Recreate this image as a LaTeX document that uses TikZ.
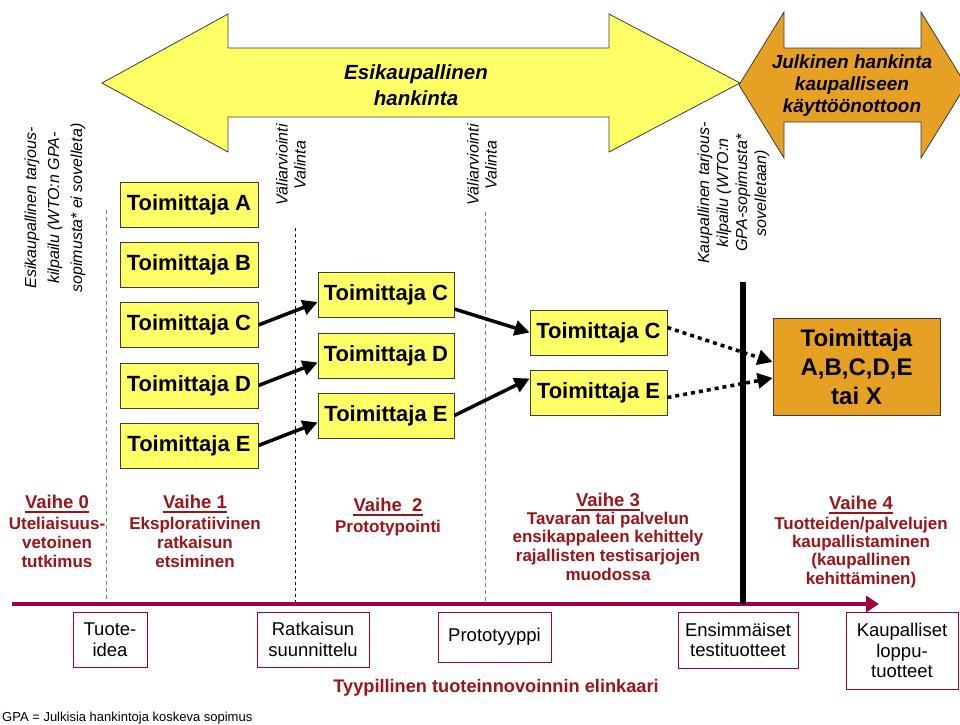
\documentclass[tikz,border=0pt]{standalone}
\usepackage{fontspec}
\setmainfont{Liberation Sans}
\usetikzlibrary{arrows.meta}
\definecolor{ylw}{RGB}{255,255,102}
\definecolor{org}{RGB}{230,160,35}
\definecolor{dred}{RGB}{155,20,25}
\definecolor{crim}{RGB}{160,0,60}
\definecolor{bord}{RGB}{60,60,60}
\begin{document}
\begin{tikzpicture}[x=1pt,y=-1pt,
  sup/.style={draw=bord, line width=0.8pt, fill=ylw, minimum height=45pt, inner sep=0pt,
    font=\fontsize{22}{26}\selectfont\bfseries},
  bigarrow/.style={draw=bord, line width=0.8pt},
  conn/.style={line width=3.5pt, -{Triangle[length=15pt,width=15pt]}},
  dotconn/.style={line width=3.5pt, dash pattern=on 4pt off 4pt, -{Triangle[length=15pt,width=15pt]}},
  rottext/.style={rotate=90, align=center, inner sep=0pt, font=\fontsize{16}{19}\selectfont\itshape},
  head/.style={anchor=base, inner sep=0pt, text=dred, font=\fontsize{18.5}{22}\selectfont\bfseries},
  body/.style={anchor=north, inner sep=0pt, align=center, text=dred, font=\fontsize{17}{19}\selectfont\bfseries},
  ul/.style={dred, line width=1.6pt},
  lbox/.style={draw=crim, line width=1pt, inner sep=0pt, align=center,
    font=\fontsize{18.5}{20.5}\selectfont},
  gdash/.style={gray, line width=1pt, dash pattern=on 4pt off 3pt},
  kdash/.style={black, line width=0.8pt, dash pattern=on 3pt off 3pt}
]
\useasboundingbox (0,0) rectangle (960,724);
\clip (0,0) rectangle (960,724);

% big arrows
\draw[bigarrow, fill=org] (739,85) -- (784,12) -- (784,48) -- (921,48) -- (921,12) -- (966,85)
  -- (921,158) -- (921,122) -- (784,122) -- (784,158) -- cycle;
\draw[bigarrow, fill=ylw] (102,83) -- (228,14) -- (228,48) -- (609,48) -- (609,14) -- (740,83)
  -- (609,152) -- (609,117) -- (228,117) -- (228,152) -- cycle;
\node[align=center, inner sep=0pt, font=\fontsize{20.5}{26}\selectfont\bfseries\itshape] (ta) at (416,85)
  {Esikaupallinen\\hankinta};
\node[align=center, inner sep=0pt, font=\fontsize{19}{22}\selectfont\bfseries\itshape] (tb) at (852,85.5)
  {Julkinen hankinta\\kaupalliseen\\käyttöönottoon};

% rotated notes
\node[rottext, font=\fontsize{16}{23}\selectfont\itshape] (n0) at (55,208)
  {Esikaupallinen tarjous-\\kilpailu (WTO:n GPA-\\sopimusta* ei sovelleta)};
\node[rottext, font=\fontsize{16}{18}\selectfont\itshape] (n1) at (291,165) {Väliarviointi\\Valinta};
\node[rottext, font=\fontsize{16}{18}\selectfont\itshape] (n2) at (482,165) {Väliarviointi\\Valinta};
\node[rottext] (n3) at (733.5,193)
  {Kaupallinen tarjous-\\kilpailu (WTO:n\\GPA-sopimusta*\\sovelletaan)};

% dashed separators
\draw[gdash] (106,210) -- (106,604);
\draw[kdash] (295,228) -- (295,604);
\draw[gdash] (485,212) -- (485,604);

% timeline
\coordinate (tl0) at (12,604);
\coordinate (tl1) at (879,604);
\draw[crim, line width=4.5pt, -{Triangle[length=13pt,width=16pt]}] (tl0) -- (tl1);

% commercial bar
\draw[line width=6pt] (743,282) -- (743,604);

% suppliers column 1
\node[sup, minimum width=138pt] (a1) at (189,204.5) {Toimittaja A};
\node[sup, minimum width=138pt] (b1) at (189,264.5) {Toimittaja B};
\node[sup, minimum width=138pt] (c1) at (189,325) {Toimittaja C};
\node[sup, minimum width=138pt] (d1) at (189,385.5) {Toimittaja D};
\node[sup, minimum width=138pt] (e1) at (189,445.5) {Toimittaja E};
% column 2
\node[sup, minimum width=136pt] (c2) at (386,295) {Toimittaja C};
\node[sup, minimum width=136pt] (d2) at (386,355.5) {Toimittaja D};
\node[sup, minimum width=136pt] (e2) at (386,415.5) {Toimittaja E};
% column 3
\node[sup, minimum width=137pt] (c3) at (598.5,332.5) {Toimittaja C};
\node[sup, minimum width=137pt] (e3) at (598.5,392.5) {Toimittaja E};
% final
\node[draw=bord, line width=0.8pt, fill=org, minimum width=167pt, minimum height=97pt, inner sep=0pt,
  align=center, font=\fontsize{24}{29}\selectfont\bfseries] (x) at (856.5,366.5)
  {Toimittaja\\A,B,C,D,E\\tai X};

% connectors
\draw[conn] (c1.east) -- ([yshift=-7pt]c2.west);
\draw[conn] (d1.east) -- ([yshift=-7pt]d2.west);
\draw[conn] (e1.east) -- ([yshift=-7pt]e2.west);
\draw[conn] ([yshift=-14pt]c2.east) -- (c3.west);
\draw[conn] (e2.east) -- ([yshift=14pt]e3.west);
\draw[dotconn] ([yshift=5pt]c3.east) -- ([yshift=4.5pt]x.west);
\draw[dotconn] ([yshift=-5pt]e3.east) -- ([yshift=-11.5pt]x.west);

% phases
\node[head] (h0) at (57,508) {Vaihe 0};
\node[head] (h1) at (195,508) {Vaihe 1};
\node[head] (h2) at (388,511) {Vaihe\ \ 2};
\node[head] (h3) at (608,506) {Vaihe 3};
\node[head] (h4) at (861,509) {Vaihe 4};
\foreach \h in {h0,h1,h2,h3,h4}
  \draw[ul] ([yshift=-4pt]\h.base west) -- ([yshift=-4pt]\h.base east);
\node[body] (p0) at (57,516.6) {Uteliaisuus-\\vetoinen\\tutkimus};
\node[body] (p1) at (195,516.6) {Eksploratiivinen\\ratkaisun\\etsiminen};
\node[body] (p2) at (388,519.6) {Prototypointi};
\node[body, font=\fontsize{17}{18.7}\selectfont\bfseries] (p3) at (608,511.6)
  {Tavaran tai palvelun\\ensikappaleen kehittely\\rajallisten testisarjojen\\muodossa};
\node[body, font=\fontsize{17}{18.3}\selectfont\bfseries] (p4) at (861,516.6)
  {Tuotteiden/palvelujen\\kaupallistaminen\\(kaupallinen\\kehittäminen)};

% life-cycle boxes
\node[lbox, minimum width=74pt, minimum height=55pt] (l1) at (110,639.5) {Tuote-\\idea};
\node[lbox, minimum width=112pt, minimum height=55pt] (l2) at (313,639.5) {Ratkaisun\\suunnittelu};
\node[lbox, minimum width=113pt, minimum height=50pt] (l3) at (494.5,637) {Prototyyppi};
\node[lbox, minimum width=120pt, minimum height=56pt] (l4) at (738,640) {Ensimmäiset\\testituotteet};
\node[lbox, minimum width=112pt, minimum height=77pt] (l5) at (902,650.5) {Kaupalliset\\loppu-\\tuotteet};

\node[inner sep=0pt, text=dred, font=\fontsize{18.2}{20}\selectfont\bfseries] (tt) at (496,687.5)
  {Tyypillinen tuoteinnovoinnin elinkaari};
\node[anchor=base west, inner sep=0pt, font=\fontsize{13}{15}\selectfont] (gpa) at (2,721)
  {GPA = Julkisia hankintoja koskeva sopimus};
\end{tikzpicture}
\end{document}
